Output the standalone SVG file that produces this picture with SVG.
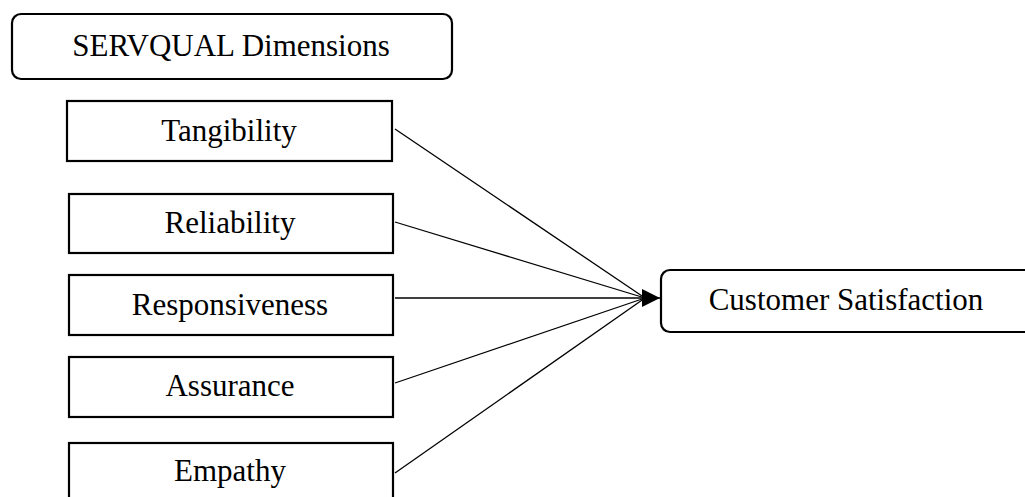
<svg xmlns="http://www.w3.org/2000/svg" width="1025" height="497" viewBox="0 0 1025 497">
  <style>
    .box { fill: #ffffff; stroke: #000000; stroke-width: 2.2; }
    .lbl { font-family: "Liberation Serif", "Times New Roman", serif; font-size: 31px; fill: #000000; text-anchor: middle; }
    .conn { stroke: #000000; stroke-width: 1.3; fill: none; }
  </style>
  <defs>
    <marker id="arrow" viewBox="0 0 18 18" refX="18" refY="9" markerWidth="18" markerHeight="18" markerUnits="userSpaceOnUse" orient="auto">
      <path d="M0,0 L18,9 L0,18 z" fill="#000000"/>
    </marker>
  </defs>
  <rect width="1025" height="497" fill="#ffffff"/>
  <g id="servqual">
    <rect class="box" x="12" y="14" width="440" height="65" rx="9" ry="9"/>
    <text class="lbl" x="231" y="56">SERVQUAL Dimensions</text>
  </g>
  <g id="tangibility">
    <rect class="box" x="67" y="101" width="325" height="60"/>
    <text class="lbl" x="229" y="141">Tangibility</text>
  </g>
  <g id="reliability">
    <rect class="box" x="69" y="194" width="324" height="59"/>
    <text class="lbl" x="230" y="233">Reliability</text>
  </g>
  <g id="responsiveness">
    <rect class="box" x="69" y="275" width="324" height="60"/>
    <text class="lbl" x="230" y="315">Responsiveness</text>
  </g>
  <g id="assurance">
    <rect class="box" x="69" y="357" width="324" height="60"/>
    <text class="lbl" x="230" y="396">Assurance</text>
  </g>
  <g id="empathy">
    <rect class="box" x="69" y="443" width="324" height="62"/>
    <text class="lbl" x="230" y="481">Empathy</text>
  </g>
  <g id="customer-satisfaction">
    <rect class="box" x="661" y="270" width="374" height="62" rx="9" ry="9"/>
    <text class="lbl" x="846" y="310">Customer Satisfaction</text>
  </g>
  <g id="connectors">
    <line class="conn" x1="395" y1="129" x2="645" y2="298"/>
    <line class="conn" x1="395" y1="222" x2="645" y2="298"/>
    <line class="conn" x1="395" y1="298" x2="660" y2="298" marker-end="url(#arrow)"/>
    <line class="conn" x1="395" y1="383" x2="645" y2="298"/>
    <line class="conn" x1="395" y1="473" x2="645" y2="298"/>
  </g>
</svg>
